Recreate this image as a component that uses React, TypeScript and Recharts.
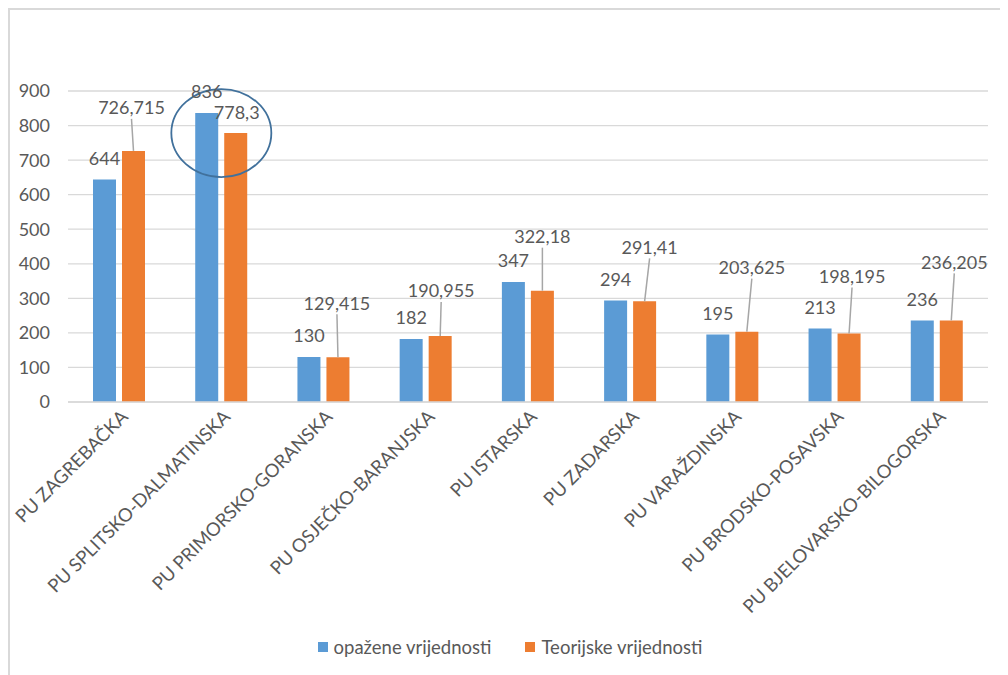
import React from 'react'
import {
  BarChart, Bar, XAxis, YAxis, CartesianGrid, Legend, LabelList, ReferenceDot,
} from 'recharts'

const categories = [
  'PU ZAGREBAČKA',
  'PU SPLITSKO-DALMATINSKA',
  'PU PRIMORSKO-GORANSKA',
  'PU OSJEČKO-BARANJSKA',
  'PU ISTARSKA',
  'PU ZADARSKA',
  'PU VARAŽDINSKA',
  'PU BRODSKO-POSAVSKA',
  'PU BJELOVARSKO-BILOGORSKA',
]
const observed = [644, 836, 130, 182, 347, 294, 195, 213, 236]
const theoretical = [726.715, 778.3, 129.415, 190.955, 322.18, 291.41, 203.625, 198.195, 236.205]
const yTicks = [0, 100, 200, 300, 400, 500, 600, 700, 800, 900]
const seriesNames = ['opažene vrijednosti', 'Teorijske vrijednosti']

// how far the orange labels sit above their bars (px), and sideways nudge
const orangeLift = [43, 20, 54, 45, 54, 54, 64, 57, 58]
const orangeShift = [-2, 1, -1, 1, 0, 5, 5, 3, 3]

const BLUE = '#5b9bd5'
const ORANGE = '#ed7d31'
const TEXT = '#595959'
const GRID = '#d9d9d9'

const data = categories.map((name, i) => ({
  name,
  observed: observed[i],
  theoretical: theoretical[i],
}))

const fmt = (v: number) => String(v).replace('.', ',')

function BlueLabel(props: any) {
  const { x, y, width, value } = props
  return (
    <text x={x + width / 2} y={y - 21} dy="0.35em" textAnchor="middle" fill={TEXT} fontSize={18}>
      {fmt(value)}
    </text>
  )
}

function OrangeLabel(props: any) {
  const { x, y, width, value, index } = props
  const cx = x + width / 2
  const lift = orangeLift[index]
  const lx = cx + orangeShift[index]
  const ly = y - lift
  return (
    <g>
      {lift > 25 && (
        <line x1={lx} y1={ly + 11} x2={cx} y2={y} stroke="#a6a6a6" strokeWidth={1.5} />
      )}
      <text x={lx} y={ly} dy="0.35em" textAnchor="middle" fill={TEXT} fontSize={18}>
        {fmt(value)}
      </text>
    </g>
  )
}

function XTick(props: any) {
  const { x, y, payload } = props
  const ax = x + 10
  const ay = y + 8
  return (
    <text x={ax} y={ay} transform={`rotate(-45 ${ax} ${ay})`} textAnchor="end" fill={TEXT} fontSize={18.5}>
      {payload.value}
    </text>
  )
}

function LegendBox() {
  return (
    <div style={{ display: 'flex', justifyContent: 'center', gap: 34, height: 30, alignItems: 'center', fontSize: 18.5, color: TEXT, paddingLeft: 14 }}>
      {seriesNames.map((n, i) => (
        <div key={n} style={{ display: 'flex', alignItems: 'center' }}>
          <span style={{ width: 10, height: 10, background: i === 0 ? BLUE : ORANGE, marginRight: 6, display: 'inline-block' }} />
          {n}
        </div>
      ))}
    </div>
  )
}

export default function App() {
  return (
    <div style={{ width: 998, height: 665, borderLeft: `2px solid ${GRID}`, borderTop: `2px solid ${GRID}`, fontFamily: 'Lato', background: '#fff' }}>
      <BarChart
        width={998}
        height={665}
        data={data}
        margin={{ top: 81, right: 20, bottom: 13, left: 8 }}
        barSize={23}
        barGap={6}
      >
        <CartesianGrid vertical={false} stroke={GRID} strokeWidth={1.3} />
        <XAxis
          dataKey="name"
          interval={0}
          height={230}
          tickLine={false}
          axisLine={{ stroke: GRID, strokeWidth: 1.3 }}
          tick={<XTick />}
        />
        <YAxis
          domain={[0, 900]}
          ticks={yTicks}
          width={50}
          axisLine={false}
          tickLine={false}
          tickMargin={12}
          tick={{ fill: TEXT, fontSize: 18 }}
        />
        <Legend verticalAlign="bottom" content={<LegendBox />} />
        <Bar dataKey="observed" name={seriesNames[0]} fill={BLUE} isAnimationActive={false}>
          <LabelList dataKey="observed" content={<BlueLabel />} />
        </Bar>
        <Bar dataKey="theoretical" name={seriesNames[1]} fill={ORANGE} isAnimationActive={false}>
          <LabelList dataKey="theoretical" content={<OrangeLabel />} />
        </Bar>
        <ReferenceDot
          x={categories[1]}
          y={theoretical[1]}
          ifOverflow="visible"
          shape={(p: any) => (
            <ellipse cx={p.cx} cy={p.cy} rx={50} ry={44} fill="none" stroke="#41719c" strokeWidth={1.8} />
          )}
        />
      </BarChart>
    </div>
  )
}
